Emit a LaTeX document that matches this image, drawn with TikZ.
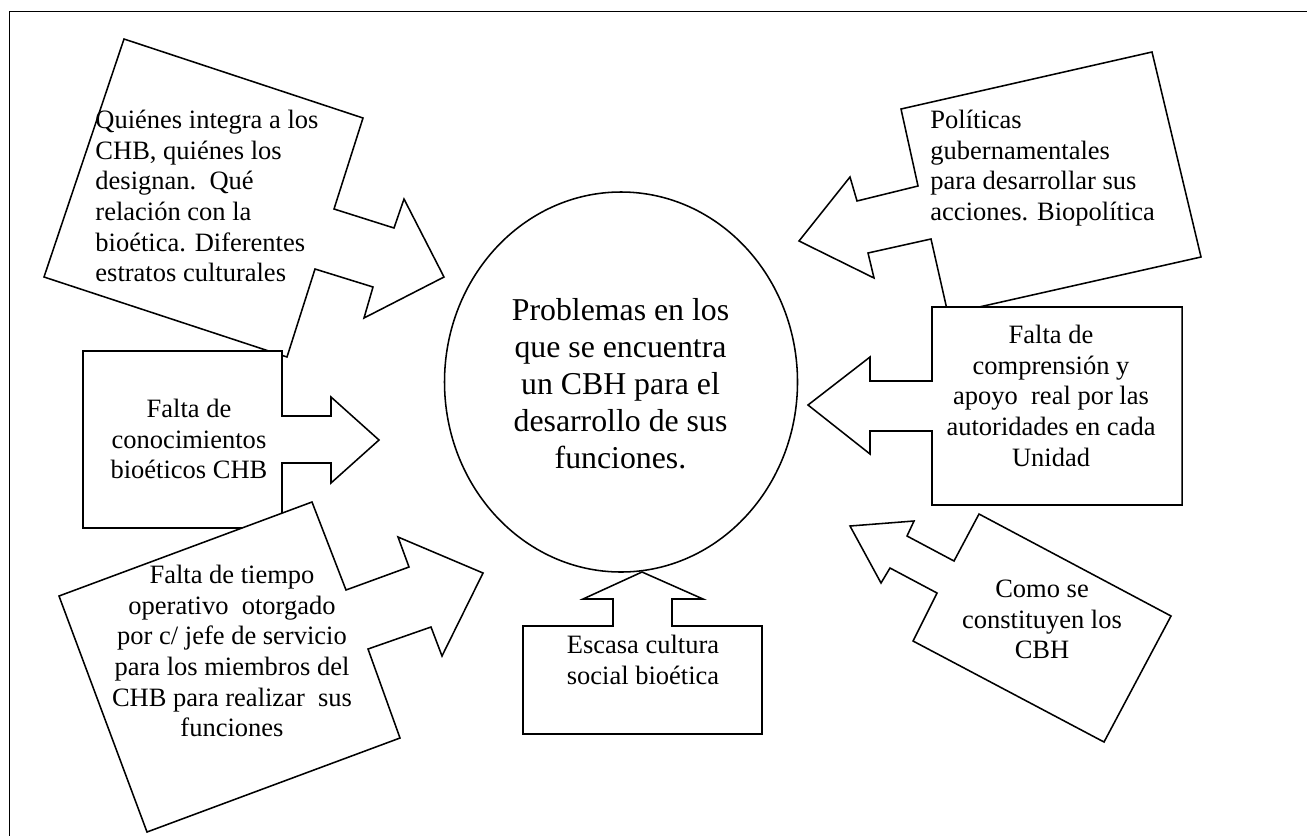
\documentclass[tikz,border=0pt]{standalone}
\usepackage{fontspec}
\setmainfont{Liberation Serif}
\begin{document}
\begin{tikzpicture}[x=0.4528pt, y=-0.4528pt,
  callout/.style={fill=white, draw=black, line width=0.7pt, line join=miter},
  txt/.style={inner sep=0pt, font=\fontsize{12}{13.9}\selectfont},
  bigtxt/.style={inner sep=0pt, font=\fontsize{14.4}{16.75}\selectfont}]
\useasboundingbox (0,0) rectangle (1307,835);
\draw[line width=0.7pt] (9.5,11.5) rectangle (1340,870);

% quienes integra
\filldraw[callout] (124,39) -- (363,118) -- (334,209) -- (394,228) -- (404,199) -- (444,277) -- (364,318) -- (373,287) -- (315,269) -- (287,357) -- (44,277) -- cycle;
\node[txt, align=left, anchor=north west] (quienes) at (95,106.5) {\strut Quiénes integra a los\\ CHB, quiénes los\\ designan.\ \ Qué\\ relación con la\\ bioética. Diferentes\\ estratos culturales};

% conocimientos
\filldraw[callout] (83,351) -- (282,351) -- (282,416) -- (331,416) -- (331,397) -- (379,440) -- (331,483) -- (331,463) -- (282,463) -- (282,528) -- (83,528) -- cycle;
\node[txt, align=center, anchor=north] (conocim) at (189,395.5) {\strut Falta de\\ conocimientos\\ bioéticos CHB};

% tiempo operativo
\filldraw[callout] (59,596) -- (312,502) -- (346,590) -- (409,567) -- (398,537) -- (483,573) -- (442,656) -- (431,627) -- (368,649) -- (400,738) -- (147,832) -- cycle;
\node[txt, align=center, anchor=north] (tiempo) at (232,561.5) {\strut Falta de tiempo\\ operativo\ \ otorgado\\ por c/ jefe de servicio\\ para los miembros del\\ CHB para realizar\ \ sus\\ funciones};

% politicas
\filldraw[callout] (901,109) -- (1152,52) -- (1201,257) -- (948,314) -- (931,239) -- (868,253) -- (874,278) -- (799,241) -- (850,177) -- (857,201) -- (918,186) -- cycle;
\node[txt, align=left, anchor=north west] (politicas) at (930,106.5) {\strut Políticas\\ gubernamentales\\ para desarrollar sus\\ acciones. Biopolítica};

% comprension
\filldraw[callout] (932,307) -- (1182,307) -- (1182,505) -- (932,505) -- (932,431) -- (870,431) -- (870,454) -- (808,405) -- (870,357) -- (870,381) -- (932,381) -- cycle;
\node[txt, align=center, anchor=north] (comprension) at (1051,321.5) {\strut Falta de\\ comprensión y\\ apoyo\ \ real por las\\ autoridades en cada\\ Unidad};

% constituyen
\filldraw[callout] (979,514) -- (1171,616) -- (1104,742) -- (913,641) -- (937,593) -- (890,568) -- (881,583) -- (850,526) -- (914,521) -- (907,536) -- (954,561) -- cycle;
\node[txt, align=center, anchor=north] (constituyen) at (1042,575.5) {\strut Como se\\ constituyen los\\ CBH};

% cultura
\filldraw[callout] (523,626) -- (613,626) -- (613,599) -- (583,599) -- (642,572) -- (703,599) -- (672,599) -- (672,626) -- (762,626) -- (762,734) -- (523,734) -- cycle;
\node[txt, align=center, anchor=north] (cultura) at (643,631.5) {\strut Escasa cultura\\ social bioética};

% centro
\filldraw[callout] (621,382) ellipse (176.5 and 190);
\node[bigtxt, align=center, anchor=north] (problemas) at (620.5,294) {\strut Problemas en los\\ que se encuentra\\ un CBH para el\\ desarrollo de sus\\ funciones.};
\end{tikzpicture}
\end{document}
